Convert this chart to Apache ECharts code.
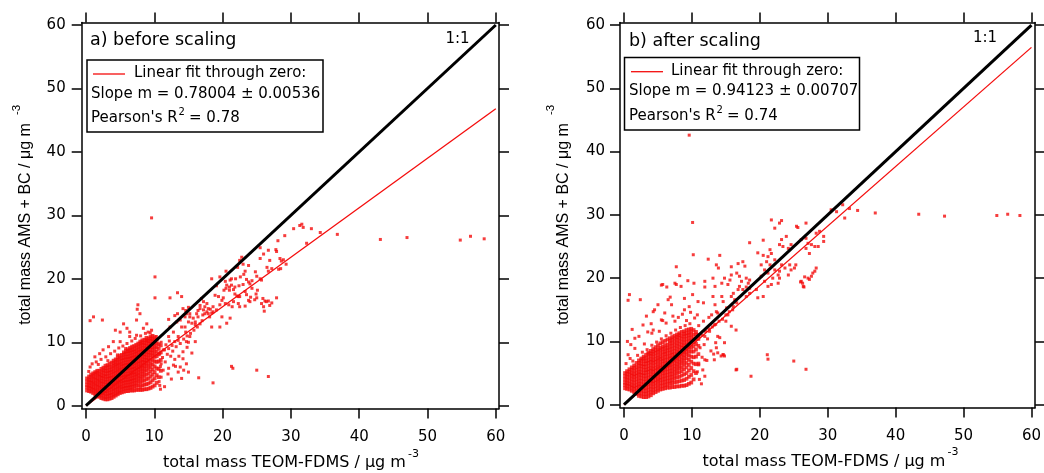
<!DOCTYPE html>
<html>
<head>
<meta charset="utf-8">
<script src="https://cdn.jsdelivr.net/npm/echarts@6/dist/echarts.min.js"></script>
<style>
html,body{margin:0;padding:0;background:#fff;}
#c{width:1044px;height:473px;}
</style>
</head>
<body>
<div id="c"></div>
<script>
// ---------------- DATA ----------------
const tickValues = [0, 10, 20, 30, 40, 50, 60];

const panelTitles = ['a) before scaling', 'b) after scaling'];
const xTitle = 'total mass TEOM-FDMS / \u03bcg m';
const yTitle = 'total mass AMS + BC / \u03bcg m';
const unitSup = '-3';
const legendLine1 = 'Linear fit through zero:';
const slopeTexts = ['Slope m = 0.78004 \u00b1 0.00536', 'Slope m = 0.94123 \u00b1 0.00707'];
const r2Values = ['= 0.78', '= 0.74'];
const oneToOneLabel = '1:1';

const oneToOne = [[0, 0], [60, 60]];
const fitA = [[0, 0], [60, 46.8]];
const fitB = [[0, 0], [60, 56.47]];

// panel a: dense cluster, read column by column [x, [y...]]
const aCols = [
[0.15,[2.4,2.9,3.3,3.8,4.3]],
[0.45,[2.3,2.8,3.2,3.7,4.1,4.6]],
[0.75,[2.2,2.7,3.1,3.6,4.0,4.5,4.9]],
[1.05,[2.0,2.5,2.9,3.4,3.8,4.3,4.7,5.1]],
[1.35,[1.8,2.3,2.7,3.2,3.6,4.1,4.5,5.0,5.3]],
[1.65,[1.6,2.1,2.5,3.0,3.4,3.9,4.3,4.8,5.2,5.5]],
[1.95,[1.4,1.9,2.3,2.8,3.2,3.7,4.1,4.6,5.0,5.5]],
[2.25,[1.2,1.7,2.1,2.6,3.0,3.5,3.9,4.4,4.8,5.3,5.8]],
[2.55,[1.1,1.6,2.0,2.5,2.9,3.4,3.8,4.3,4.7,5.2,5.6,6.0]],
[2.85,[1.0,1.4,1.9,2.3,2.8,3.2,3.7,4.1,4.6,5.0,5.5,5.9,6.3]],
[3.15,[1.0,1.5,1.9,2.4,2.8,3.3,3.7,4.2,4.6,5.1,5.5,6.0,6.4]],
[3.45,[1.1,1.6,2.0,2.5,2.9,3.4,3.8,4.3,4.7,5.2,5.6,6.1,6.6]],
[3.75,[1.2,1.7,2.1,2.6,3.0,3.5,3.9,4.4,4.8,5.3,5.7,6.2,6.8]],
[4.05,[1.4,1.8,2.3,2.7,3.2,3.6,4.1,4.5,5.0,5.4,5.9,6.3,6.7,7.1]],
[4.35,[1.6,2.0,2.5,2.9,3.4,3.8,4.3,4.7,5.2,5.6,6.1,6.5,6.9,7.3]],
[4.65,[1.8,2.2,2.7,3.1,3.6,4.0,4.5,4.9,5.4,5.8,6.3,6.7,7.2,7.6]],
[4.95,[2.0,2.4,2.9,3.3,3.8,4.2,4.7,5.1,5.6,6.0,6.5,6.9,7.4,7.9]],
[5.25,[2.1,2.6,3.0,3.5,3.9,4.4,4.8,5.3,5.7,6.2,6.6,7.1,7.5,8.0]],
[5.55,[2.2,2.7,3.1,3.6,4.0,4.5,4.9,5.4,5.8,6.3,6.7,7.2,7.6,8.1,8.4]],
[5.85,[2.3,2.8,3.2,3.7,4.1,4.6,5.0,5.5,5.9,6.4,6.8,7.3,7.7,8.2,8.6]],
[6.15,[2.3,2.8,3.2,3.7,4.1,4.6,5.0,5.5,5.9,6.4,6.8,7.3,7.7,8.2,8.6,8.9]],
[6.45,[2.4,2.9,3.3,3.8,4.2,4.7,5.1,5.6,6.0,6.5,6.9,7.4,7.8,8.3,8.7,9.1]],
[6.75,[2.4,2.9,3.4,3.9,4.3,4.8,5.2,5.7,6.1,6.6,7.0,7.5,7.9,8.4,8.8,9.3]],
[7.05,[2.4,3.0,3.5,4.0,4.4,4.9,5.3,5.8,6.2,6.7,7.1,7.6,8.0,8.5,8.9,9.4]],
[7.35,[2.5,3.1,3.6,4.1,4.6,5.0,5.5,5.9,6.4,6.8,7.3,7.7,8.2,8.6,9.1,9.6]],
[7.65,[2.5,3.2,3.8,4.3,4.8,5.2,5.7,6.1,6.6,7.0,7.5,7.9,8.4,8.8,9.3,9.8]],
[7.95,[2.5,3.0,3.6,4.2,4.7,5.3,5.8,6.2,6.7,7.1,7.6,8.0,8.5,8.9,9.4,9.8,10.1]],
[8.25,[2.5,3.2,3.9,4.5,5.0,5.5,6.0,6.4,6.9,7.3,7.8,8.2,8.7,9.1,9.6,10.0,10.3]],
[8.55,[2.6,3.3,4.0,4.7,5.3,5.8,6.3,6.8,7.2,7.7,8.1,8.6,9.0,9.5,9.9,10.4]],
[8.85,[2.6,3.4,4.2,4.9,5.6,6.2,6.7,7.2,7.6,8.1,8.5,9.0,9.4,9.9,10.3,10.7]],
[9.15,[2.7,3.5,4.3,5.1,5.8,6.4,7.0,7.5,8.0,8.4,8.9,9.3,9.8,10.2,10.6]],
[9.45,[2.8,3.7,4.6,5.4,6.1,6.7,7.3,7.9,8.4,8.8,9.3,9.7,10.2,10.6,10.9]],
[9.75,[3.0,4.0,4.9,5.7,6.5,7.2,7.8,8.3,8.8,9.3,9.7,10.1,10.5,11.0]],
[10.05,[3.2,4.3,5.3,6.2,7.0,7.7,8.3,8.9,9.4,9.9,10.3,10.8]],
[10.35,[3.6,4.8,5.9,6.9,7.8,8.5,9.2,9.8,10.4]],
[10.65,[4.5,5.8,7.0,8.1,9.0,9.7]],
[10.95,[5.5,7.2,8.4,9.5]]
];

// panel a: scattered points [x, y]
const aSparse = [
[0.6,13.4],[1.1,14.0],[2.4,13.5],[0.4,5.4],[0.6,6.1],[0.9,6.6],[1.3,7.7],[1.5,6.9],[1.8,6.5],[2.0,8.2],[2.2,7.3],[2.5,8.8],
[2.9,7.7],[3.2,7.1],[3.3,9.3],[3.6,8.2],[4.0,10.1],[4.2,8.6],[4.3,11.9],[4.6,8.0],[4.8,9.1],[5.0,10.1],[5.0,11.6],[5.4,9.4],
[5.5,12.9],[5.8,9.0],[6.0,9.8],[6.0,12.2],[6.4,10.9],[6.4,11.6],[6.7,10.2],[7.2,10.6],[7.4,11.1],[7.4,13.5],[7.5,15.2],[7.6,15.9],
[7.9,14.5],[8.0,11.0],[8.4,12.2],[8.7,11.4],[8.9,12.9],[8.9,10.3],[9.1,11.6],[9.4,11.5],[9.6,11.9],[9.6,29.6],[10.1,20.3],[10.1,17.0],
[10.3,10.9],[10.1,10.1],
[10.7,3.8],[10.8,3.2],[10.9,2.6],[11.0,4.5],[11.3,5.6],[10.9,6.2],[11.0,6.6],[11.6,6.9],[11.2,7.6],[11.9,8.1],[11.5,3.0],[11.3,8.8],
[10.8,8.2],[11.5,8.8],[12.1,9.0],[12.6,9.5],[13.0,10.1],[13.5,10.3],[12.4,7.8],[12.7,8.6],[13.2,9.3],[13.8,9.8],[14.3,10.5],[14.8,11.0],
[15.3,11.4],[15.8,11.9],[16.3,12.4],[16.7,12.9],[12.2,10.2],[11.7,9.6],[11.0,10.0],[13.6,7.8],[14.2,8.5],[14.8,9.2],[12.0,5.0],[12.5,4.2],
[13.1,6.2],[14.7,6.6],[14.2,7.4],[15.5,8.3],[15.0,10.0],[13.0,7.3],[13.8,6.1],[14.3,5.6],[12.8,6.4],[12.1,5.9],[13.5,5.3],[15.0,5.3],
[14.0,4.3],[12.1,13.6],[13.3,13.2],[13.8,13.5],[15.2,14.0],[16.0,13.2],[14.0,12.4],[14.6,11.6],[15.2,10.9],[16.0,10.1],[14.7,10.1],[13.5,10.9],
[12.8,11.6],[12.3,12.4],[12.1,10.9],[12.3,17.0],[13.4,17.8],[14.0,17.2],[13.4,14.5],[14.6,15.0],[13.0,14.2],[15.0,15.5],
[14.2,15.3],[14.5,14.0],[14.7,14.5],[15.2,14.5],[15.0,13.2],[15.5,13.0],[14.5,12.4],[15.7,13.8],[16.2,14.5],[16.4,14.0],[16.7,15.8],[17.1,14.3],
[17.2,15.1],[17.4,14.5],[17.7,14.8],[17.9,14.5],[18.1,14.0],[18.2,15.2],[18.4,14.6],[18.6,14.8],[16.9,16.9],[17.2,16.4],[17.7,16.1],[17.4,15.6],
[16.7,15.3],[16.4,15.0],[17.9,15.3],[18.6,15.6],[19.6,15.9],[17.0,13.4],[16.0,12.8],[18.4,12.4],[19.6,12.4],[19.1,15.1],[19.9,14.0],[21.1,13.8],
[20.6,13.0],
[18.4,20.0],[19.6,20.3],[19.1,18.9],[18.9,17.4],[19.4,17.2],[19.9,16.6],[20.1,17.0],[20.4,16.1],[20.9,15.9],[21.4,15.6],[21.6,16.4],[22.3,17.2],
[22.6,20.3],[21.9,20.0],[21.3,20.0],[21.1,19.8],[20.4,19.6],[20.6,19.0],[21.0,18.7],[21.3,19.0],[21.6,18.3],[21.8,18.7],[21.0,18.2],[20.5,18.5],
[20.2,18.2],[21.8,17.6],[22.1,17.3],[22.5,17.2],[22.4,18.9],[23.0,19.1],[23.3,18.0],[23.5,17.5],[24.1,17.1],[23.8,16.6],[22.3,16.1],[22.5,15.6],
[24.0,16.4],[25.0,17.0],[22.8,23.4],[23.8,22.1],[24.8,21.1],[25.0,20.4],[25.5,20.0],[25.7,19.8],[23.3,21.2],[23.1,20.7],[23.5,19.9],[23.8,19.5],
[24.3,19.7],[24.0,19.2],[24.3,18.5],[25.1,18.2],[24.9,17.6],[25.9,16.9],[26.2,16.5],[26.7,16.5],[27.2,16.2],[27.9,17.0],[26.0,15.6],[26.1,14.9],
[26.4,16.4],[26.9,15.8],[24.7,16.7],[25.7,16.1],[23.3,15.7],[22.5,22.9],[23.0,22.3],[22.2,21.8],[20.5,21.2],
[32.3,25.6],[29.1,26.8],[28.1,26.0],[27.8,24.6],[27.9,24.3],[26.7,24.5],[25.5,24.9],[26.0,23.9],[25.5,23.2],[26.9,22.9],[28.4,23.2],[28.9,23.0],
[28.6,22.8],[29.3,22.3],[28.2,21.5],[28.5,21.6],[27.2,21.6],[26.7,21.2],[26.5,21.8],
[30.4,27.9],[31.3,28.4],[31.8,28.1],[31.6,28.6],[33.0,27.9],[34.3,27.3],[36.8,27.0],[43.1,26.2],[47.0,26.5],[54.8,26.1],[56.3,26.7],[58.3,26.3],
[16.5,4.4],[18.6,3.6],[21.3,6.2],[21.5,5.9],[25.0,5.6],[26.7,4.6]
];

// panel b: dense cluster [x, [y...]]
const bCols = [
[0.15,[2.6,3.1,3.5,4.0,4.5,5.0]],
[0.45,[2.5,3.0,3.4,3.9,4.4,4.9,5.3]],
[0.8,[2.4,2.9,3.3,3.8,4.3,4.8,5.2,5.6]],
[1.15,[2.2,2.7,3.1,3.6,4.1,4.6,5.0,5.5,5.9]],
[1.5,[2.0,2.5,2.9,3.4,3.9,4.4,4.8,5.3,5.8,6.2]],
[1.85,[1.7,2.2,2.7,3.1,3.6,4.1,4.6,5.0,5.5,6.0,6.6]],
[2.2,[1.4,1.9,2.4,2.9,3.3,3.8,4.3,4.8,5.2,5.7,6.2,6.6,7.0]],
[2.55,[1.3,1.8,2.3,2.8,3.2,3.7,4.2,4.7,5.1,5.6,6.1,6.5,7.0,7.3]],
[2.9,[1.2,1.7,2.2,2.7,3.1,3.6,4.1,4.6,5.0,5.5,6.0,6.4,6.9,7.3,7.6]],
[3.25,[1.2,1.7,2.2,2.7,3.2,3.6,4.1,4.6,5.1,5.5,6.0,6.5,6.9,7.4,7.9]],
[3.6,[1.3,1.8,2.3,2.8,3.3,3.7,4.2,4.7,5.2,5.6,6.1,6.6,7.0,7.5,8.0,8.2]],
[3.95,[1.5,2.0,2.5,3.0,3.5,3.9,4.4,4.9,5.4,5.8,6.3,6.8,7.2,7.7,8.1,8.5]],
[4.3,[1.8,2.3,2.8,3.3,3.7,4.2,4.7,5.2,5.6,6.1,6.6,7.0,7.5,8.0,8.4,8.8]],
[4.65,[2.0,2.5,3.0,3.5,3.9,4.4,4.9,5.4,5.8,6.3,6.8,7.2,7.7,8.2,8.6,9.1]],
[5.0,[2.2,2.7,3.2,3.7,4.1,4.6,5.1,5.6,6.0,6.5,7.0,7.4,7.9,8.4,8.8,9.4]],
[5.35,[2.4,2.9,3.4,3.9,4.3,4.8,5.3,5.8,6.2,6.7,7.2,7.6,8.1,8.6,9.0,9.7]],
[5.7,[2.5,3.0,3.5,4.0,4.5,5.0,5.4,5.9,6.4,6.9,7.3,7.8,8.3,8.8,9.2,9.9]],
[6.05,[2.6,3.1,3.6,4.1,4.6,5.1,5.6,6.0,6.5,7.0,7.5,8.0,8.4,8.9,9.4,10.1]],
[6.4,[2.7,3.2,3.7,4.2,4.7,5.2,5.7,6.2,6.6,7.1,7.6,8.1,8.6,9.0,9.5,10.3]],
[6.75,[2.7,3.3,3.8,4.3,4.8,5.3,5.8,6.3,6.8,7.3,7.7,8.2,8.7,9.2,9.7,10.1,10.5]],
[7.1,[2.8,3.4,3.9,4.4,4.9,5.4,5.9,6.4,6.9,7.4,7.9,8.3,8.8,9.3,9.8,10.3,10.7]],
[7.45,[2.8,3.5,4.1,4.6,5.1,5.6,6.1,6.6,7.1,7.6,8.0,8.5,9.0,9.5,10.0,10.5,10.9]],
[7.8,[2.9,3.6,4.3,4.9,5.4,5.9,6.4,6.9,7.4,7.9,8.3,8.8,9.3,9.8,10.3,10.7,11.1]],
[8.15,[2.9,3.7,4.4,5.1,5.7,6.2,6.7,7.2,7.7,8.2,8.6,9.1,9.6,10.1,10.6,11.0,11.3]],
[8.5,[3.0,3.8,4.6,5.3,5.9,6.5,7.0,7.5,8.0,8.5,9.0,9.4,9.9,10.4,10.9,11.5]],
[8.85,[3.0,3.9,4.8,5.6,6.3,6.9,7.4,7.9,8.4,8.9,9.3,9.8,10.3,10.8,11.2,11.6]],
[9.2,[3.1,4.1,5.0,5.9,6.6,7.3,7.9,8.4,8.9,9.4,9.9,10.4,10.9,11.3,11.8]],
[9.55,[3.3,4.4,5.4,6.3,7.1,7.8,8.4,9.0,9.5,10.0,10.5,11.0,11.4,11.9]],
[9.9,[3.5,4.7,5.8,6.8,7.6,8.4,9.0,9.6,10.1,10.6,11.1,11.6,12.0]],
[10.25,[4.0,5.3,6.5,7.5,8.4,9.2,9.9,10.5,11.1,11.8]],
[10.6,[5.0,6.4,7.6,8.7,9.6,10.4,11.1,11.5]],
[10.95,[6.5,8.0,9.3,10.4,11.0]]
];

// panel b: scattered points [x, y]
const bSparse = [
[9.6,42.6],[10.1,28.8],[10.2,23.7],
[0.8,17.4],[0.6,16.5],[2.4,16.6],[4.5,15.0],[4.3,14.7],[5.7,19.0],[5.5,18.9],[7.7,21.8],[7.7,19.0],[7.5,19.2],[8.4,18.7],
[6.5,16.6],[7.0,15.8],[8.9,16.8],[10.1,17.4],[10.9,16.3],[8.9,15.0],[9.6,15.5],[5.5,13.4],[5.7,13.3],[4.3,11.8],[4.1,11.3],[5.2,11.6],
[6.2,12.9],[7.2,14.0],[10.4,13.7],[1.0,9.5],[0.5,10.0],[1.6,8.9],[1.6,10.5],[2.2,10.8],[3.0,9.6],[3.5,11.5],[2.8,12.6],[1.2,11.9],
[4.0,12.8],[3.3,14.0],[0.6,7.9],[0.9,7.3],[0.3,6.5],[1.3,6.9],[2.0,7.8],[2.7,8.3],[3.4,8.7],[4.1,9.4],[4.8,9.9],[5.5,10.4],
[6.2,10.9],[6.9,11.3],[7.6,11.8],[8.3,12.2],[9.0,12.5],[9.7,12.8],[6.8,17.0],[7.5,13.2],[8.0,13.8],[8.6,14.3],[9.2,13.3],[9.8,14.6],
[6.0,14.5],[5.0,15.8],[9.4,19.6],[8.2,20.4],[6.3,18.6],[10.3,19.2],
[10.5,10.2],[11.0,10.8],[11.5,11.0],[12.0,11.6],[12.5,12.0],[13.0,12.3],[13.5,12.7],[14.0,13.2],[14.5,13.5],[15.0,14.2],[15.5,14.7],[16.0,15.0],
[11.2,9.0],[11.8,9.5],[12.3,10.4],[12.8,8.5],[13.5,9.8],[14.1,10.6],[11.5,7.5],[12.2,7.0],[13.2,8.0],[14.6,7.9],[11.0,12.5],[11.7,13.2],
[12.5,13.8],[10.8,14.2],[13.8,14.5],[15.0,13.2],[15.8,12.4],[16.5,11.8],[13.3,12.6],[12.6,11.6],[11.9,10.8],[13.8,10.8],[14.8,9.8],[13.6,9.0],
[13.3,7.1],[14.3,7.7],[11.9,7.1],[11.6,5.5],[11.9,4.5],[11.1,4.0],[16.5,5.5],[13.8,8.2],[14.8,7.7],[11.0,6.3],[10.8,5.2],[11.4,3.3],
[12.4,23.0],[14.1,23.6],[13.6,22.1],[13.9,21.6],[11.9,19.5],[11.9,18.6],[13.1,20.0],[13.4,18.7],[14.8,20.0],[14.4,19.2],[15.3,19.0],[15.6,19.7],
[15.8,21.8],[15.8,20.5],[16.8,22.3],[17.5,22.6],[17.8,21.9],[16.6,20.8],[17.0,20.3],[17.3,19.5],[18.0,20.0],[18.5,19.7],[18.3,19.2],[18.0,18.6],
[17.0,18.7],[16.8,18.2],[17.5,18.2],[18.5,18.4],[16.1,17.6],[15.8,17.1],[16.3,16.6],[14.4,17.1],[14.6,16.3],[13.1,17.1],[13.4,15.8],[11.7,16.1],
[12.9,14.2],[13.6,14.7],[15.1,15.3],[15.3,14.2],[16.1,15.5],[16.6,16.1],[18.0,17.1],[18.5,17.6],[19.5,18.2],[19.7,16.9],[20.5,17.1],
[18.5,25.6],[20.5,26.0],[19.7,24.0],[20.5,23.6],[21.5,24.5],[21.7,23.9],[21.2,23.4],[21.0,22.6],[21.5,22.1],[22.2,22.9],[20.2,22.1],[20.7,21.3],
[21.2,20.8],[20.2,20.3],[20.7,19.5],[21.2,18.7],[21.7,19.0],[21.9,20.0],[22.7,20.5],[22.2,21.3],[22.9,21.1],[23.2,22.1],[23.7,21.6],[22.9,20.0],
[22.7,19.2],[24.2,20.5],[24.6,21.3],[24.4,22.1],[25.1,21.6],[25.3,22.1],[21.7,29.2],[22.9,28.7],[23.2,29.1],[22.2,27.9],[23.9,26.6],[23.2,26.1],
[22.9,25.3],[23.4,25.0],[24.2,24.7],[24.6,25.3],[25.4,28.2],[25.6,28.0],[26.8,28.7],[26.1,26.1],[26.8,26.3],[27.1,25.5],[27.6,25.3],[28.1,25.0],
[28.6,25.0],[28.3,27.1],[28.8,27.4],[29.4,26.6],[29.4,25.8],[28.3,21.6],[27.6,20.3],[27.1,20.0],[26.6,20.2],[26.1,19.5],[26.4,18.7],[28.1,21.1],
[27.3,23.9],[26.8,24.7],
[30.5,30.8],[31.3,30.5],[32.2,31.6],[32.5,29.5],[33.2,31.0],[34.4,30.7],[37.0,30.3],[43.4,30.1],[47.2,29.8],[54.9,29.9],[56.5,30.1],[58.3,29.9],
[21.1,7.9],[21.2,7.2],[25.0,6.9],[26.8,5.6],[16.6,5.6],[18.7,4.5],[14.6,7.9],
[26.3,19.2],[26.5,18.6],[26.0,19.4],[27.8,20.8],[27.3,19.8]
];

// ---------------- CHART ----------------
function fromCols(cols) {
  const out = [];
  cols.forEach(function (c) { c[1].forEach(function (y) { out.push([c[0], y]); }); });
  return out;
}

const RED = '#f40c0c';
const FONT = '"DejaVu Sans", sans-serif';
const SANS = '"Liberation Sans", Arial, sans-serif';
const LINEW = 1.5;

function xAx(grid, pos, min, max, showLabel) {
  return {
    type: 'value', gridIndex: grid, position: pos, min: min, max: max,
    axisLine: { show: true, onZero: false, lineStyle: { color: '#000', width: LINEW } },
    axisTick: { show: true, inside: false, length: 10, customValues: tickValues, lineStyle: { color: '#000', width: LINEW } },
    axisLabel: { show: showLabel, customValues: tickValues, margin: 21, fontSize: 15, fontFamily: FONT, color: '#000' },
    splitLine: { show: false }
  };
}
function yAx(grid, pos, min, max, showLabel, margin) {
  return {
    type: 'value', gridIndex: grid, position: pos, min: min, max: max,
    axisLine: { show: true, onZero: false, lineStyle: { color: '#000', width: LINEW } },
    axisTick: { show: true, inside: false, length: 10, customValues: tickValues, lineStyle: { color: '#000', width: LINEW } },
    axisLabel: { show: showLabel, customValues: tickValues, margin: margin, fontSize: 15, fontFamily: FONT, color: '#000' },
    splitLine: { show: false }
  };
}

function txt(x, y, text, size, align, family, rot) {
  return {
    type: 'text', x: x, y: y, rotation: rot || 0, z: 100,
    style: {
      text: text, fill: '#000',
      font: size + 'px ' + (family || FONT),
      align: align || 'left', verticalAlign: 'middle',
      textAlign: align || 'left', textVerticalAlign: 'middle'
    }
  };
}

function scatter(xi, yi, data, size) {
  return { type: 'scatter', xAxisIndex: xi, yAxisIndex: yi, data: data, symbol: 'rect', symbolSize: size,
    itemStyle: { color: RED }, z: 2, silent: true };
}
function line(xi, yi, data, color, width, z) {
  return { type: 'line', xAxisIndex: xi, yAxisIndex: yi, data: data, symbol: 'none', z: z, silent: true,
    lineStyle: { color: color, width: width } };
}

const graphics = [
  txt(90, 40, panelTitles[0], 17.5),
  txt(629, 41.5, panelTitles[1], 17.5),
  txt(457.5, 39.5, oneToOneLabel, 15, 'center'),
  txt(985, 38, oneToOneLabel, 15, 'center'),
  { type: 'rect', z: 90, shape: { x: 87, y: 60, width: 236, height: 72 }, style: { fill: '#fff', stroke: '#000', lineWidth: 1.5 } },
  { type: 'line', z: 100, shape: { x1: 93, y1: 74, x2: 125, y2: 74 }, style: { stroke: RED, lineWidth: 1.3 } },
  txt(134, 73.5, legendLine1, 15),
  txt(91, 94, slopeTexts[0], 15),
  txt(91, 118.5, "Pearson's R", 15),
  txt(178.5, 112, '2', 10),
  txt(189, 118.5, r2Values[0], 15),
  { type: 'rect', z: 90, shape: { x: 624.5, y: 57.5, width: 235, height: 72.5 }, style: { fill: '#fff', stroke: '#000', lineWidth: 1.5 } },
  { type: 'line', z: 100, shape: { x1: 631, y1: 71.7, x2: 663, y2: 71.7 }, style: { stroke: RED, lineWidth: 1.3 } },
  txt(671, 71.5, legendLine1, 15),
  txt(629, 91.5, slopeTexts[1], 15),
  txt(629, 116.5, "Pearson's R", 15),
  txt(716.5, 110, '2', 10),
  txt(727, 116.5, r2Values[1], 15),
  txt(163, 463, xTitle, 16),
  txt(408, 454, unitSup, 11),
  txt(702.5, 462, xTitle, 16),
  txt(947.5, 452, unitSup, 11),
  txt(25.5, 224, yTitle, 16, 'center', SANS, Math.PI / 2),
  txt(16.5, 110, unitSup, 11.5, 'center', SANS, Math.PI / 2),
  txt(563.3, 224, yTitle, 16, 'center', SANS, Math.PI / 2),
  txt(551, 110, unitSup, 11.5, 'center', SANS, Math.PI / 2)
];

const chart = echarts.init(document.getElementById('c'), null, { renderer: 'canvas' });
chart.setOption({
  animation: false,
  backgroundColor: '#fff',
  grid: [
    { left: 81.7, top: 22.5, width: 417.3, height: 386, containLabel: false },
    { left: 620, top: 22.5, width: 416, height: 385, containLabel: false }
  ],
  xAxis: [
    xAx(0, 'bottom', -0.63, 60.47, true),
    xAx(0, 'top', -0.63, 60.47, false),
    xAx(1, 'bottom', -0.59, 60.54, true),
    xAx(1, 'top', -0.59, 60.54, false)
  ],
  yAxis: [
    yAx(0, 'left', -0.44, 60.39, true, 16),
    yAx(0, 'right', -0.44, 60.39, false, 16),
    yAx(1, 'left', -0.44, 60.40, true, 15),
    yAx(1, 'right', -0.44, 60.40, false, 15)
  ],
  series: [
    scatter(0, 0, fromCols(aCols), 3.8),
    scatter(0, 0, aSparse, 3),
    line(0, 0, fitA, RED, 1.3, 3),
    line(0, 0, oneToOne, '#000', 3, 4),
    scatter(2, 2, fromCols(bCols), 3.8),
    scatter(2, 2, bSparse, 3),
    line(2, 2, fitB, RED, 1.3, 3),
    line(2, 2, oneToOne, '#000', 3, 4)
  ],
  graphic: graphics
});
</script>
</body>
</html>
